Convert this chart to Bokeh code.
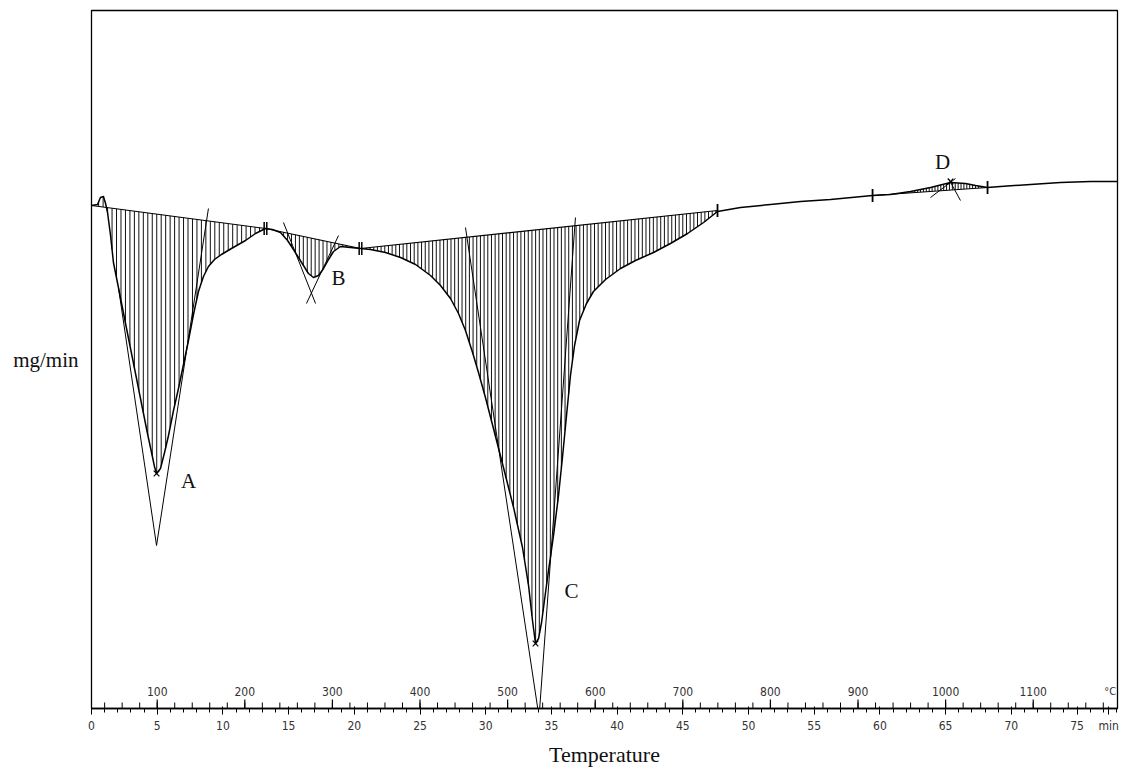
import numpy as np
from bokeh.plotting import figure
from bokeh.models import Range1d, FixedTicker, Label
from bokeh.core.properties import value
from bokeh.embed import file_html
from bokeh.resources import INLINE

# ---------------- data ----------------
# DTG curve: time (min) vs mass-loss rate (mg/min, arbitrary scale)
time_min = [0.00, 0.46, 0.68, 0.91, 1.07, 1.22, 1.45, 1.67, 2.05, 2.59, 3.35, 3.88, 4.26, 4.57, 4.79, 4.95,
            5.25, 5.56, 5.86, 6.24, 6.62, 7.00, 7.38, 7.76, 8.14, 8.52, 8.90, 9.36, 9.89, 10.65, 11.72,
            12.48, 13.24,
            13.77, 14.38, 14.92, 15.37, 15.75, 16.13, 16.51, 16.89, 17.28, 17.66, 18.04, 18.42, 18.95,
            19.71, 20.47,
            21.23, 22.37, 23.52, 24.66, 25.80, 26.56, 27.32, 27.93, 28.46, 29.00, 29.45, 29.98, 30.59,
            31.35, 32.12, 32.80, 33.26, 33.56, 33.79, 34.02, 34.25, 34.47, 34.78, 35.16, 35.54, 35.84,
            36.15, 36.45, 36.76, 37.14, 37.67, 38.20, 39.12, 40.26, 41.40, 42.77, 44.06, 45.36, 46.58,
            47.64,
            49.39, 51.67, 53.96, 56.24, 59.44, 60.81, 62.33, 63.85, 65.37, 66.51, 67.28, 68.19,
            69.18, 71.46, 73.74, 76.03, 78.08]
rate = [0.00, 0.01, 0.08, 0.09, 0.02, -0.07, -0.30, -0.57, -0.82, -1.18, -1.68, -2.03, -2.28, -2.47, -2.61, -2.68,
        -2.63, -2.47, -2.30, -2.05, -1.83, -1.59, -1.35, -1.09, -0.86, -0.71, -0.61, -0.54, -0.49, -0.43, -0.35,
        -0.28, -0.23,
        -0.24, -0.27, -0.35, -0.44, -0.52, -0.60, -0.68, -0.72, -0.70, -0.63, -0.54, -0.46, -0.41,
        -0.42, -0.43,
        -0.44, -0.47, -0.52, -0.59, -0.70, -0.80, -0.93, -1.08, -1.25, -1.47, -1.67, -1.92, -2.23,
        -2.62, -3.02, -3.42, -3.80, -4.15, -4.38, -4.33, -4.17, -3.95, -3.65, -3.30, -2.90, -2.52,
        -2.10, -1.70, -1.40, -1.15, -0.98, -0.86, -0.74, -0.63, -0.55, -0.47, -0.38, -0.28, -0.17,
        -0.06,
        -0.02, 0.01, 0.04, 0.06, 0.10, 0.11, 0.14, 0.18, 0.23, 0.22, 0.20, 0.18,
        0.19, 0.21, 0.23, 0.24, 0.24]

# peaks: integration limits (min) and baseline end values
peak_names = ["A", "B", "C", "D"]
base_t0 = [0.00, 13.24, 20.47, 59.44]
base_v0 = [0.00, -0.23, -0.43, 0.10]
base_t1 = [13.24, 20.47, 47.64, 68.19]
base_v1 = [-0.23, -0.43, -0.05, 0.18]
hatch_step = [0.34, 0.30, 0.28, 0.22]

# peak extremes (x marks) and label positions
mark_t = [4.95, 33.79, 65.37]
mark_v = [-2.68, -4.38, 0.24]
label_t = [7.38, 18.80, 36.53, 64.76]
label_v = [-2.75, -0.72, -3.85, 0.44]

# tangent construction lines
tan_t0 = [2.05, 8.90, 14.61, 18.80, 28.46, 36.83, 63.85, 65.22]
tan_v0 = [-0.82, -0.03, -0.17, -0.30, -0.22, -0.12, 0.08, 0.27]
tan_t1 = [4.95, 4.95, 17.05, 16.36, 34.12, 34.03, 65.75, 66.13]
tan_v1 = [-3.40, -3.40, -0.98, -0.98, -5.17, -5.17, 0.27, 0.05]

# limit markers (single and double)
single_lim_t = [47.64, 59.44, 68.19]
single_lim_v = [-0.05, 0.10, 0.18]
double_lim_t = [13.24, 20.47]
double_lim_v = [-0.23, -0.43]

# axis scales
minute_ticks = list(range(0, 76, 5))
temp_major = [100, 200, 300, 400, 500, 600, 700, 800, 900, 1000, 1100]
temp_minor = list(range(40, 1181, 20))
T0, HEAT_RATE = 25.0, 15.0   # deg C, deg C / min

X_END = 78.08
Y_MIN, Y_MAX = -5.03, 1.95

# ---------------- figure ----------------
p = figure(width=1134, height=772, x_range=Range1d(0, X_END), y_range=Range1d(Y_MIN, Y_MAX),
           output_backend="svg", toolbar_location=None,
           min_border_left=91, min_border_right=17, min_border_top=10, min_border_bottom=64)
p.extra_x_ranges = {"temp": Range1d(T0, T0 + HEAT_RATE * X_END)}
p.xgrid.visible = False
p.ygrid.visible = False
p.outline_line_color = "black"
p.outline_line_width = 1.3
p.background_fill_color = "white"
p.border_fill_color = "white"

narrow = "Liberation Sans Narrow, DejaVu Sans Condensed, Liberation Sans, sans-serif"
serif = "Liberation Serif"

# minutes axis
xa = p.xaxis[0]
xa.ticker = FixedTicker(ticks=minute_ticks + [77.4], minor_ticks=list(range(0, 79)))
xa.major_label_overrides = {77.4: "min"}
xa.axis_line_color = "black"
xa.axis_line_width = 1.3
xa.major_tick_line_color = "black"
xa.minor_tick_line_color = "black"
xa.major_tick_out = 6
xa.major_tick_in = 2
xa.minor_tick_out = 4
xa.minor_tick_in = 0
xa.major_label_standoff = 4
xa.major_label_text_font = narrow
xa.major_label_text_font_size = "12px"
xa.major_label_text_color = "#333333"
xa.axis_label = "Temperature"
xa.axis_label_text_font = serif
xa.axis_label_text_font_size = "22px"
xa.axis_label_text_font_style = "normal"
xa.axis_label_text_color = "#111111"
xa.axis_label_standoff = 6

# hidden left axis carrying the unit label
ya = p.yaxis[0]
ya.ticker = FixedTicker(ticks=[])
ya.axis_line_color = None
ya.major_tick_line_color = None
ya.minor_tick_line_color = None
ya.axis_label_text_font = serif
ya.axis_label_text_font_size = "21px"
ya.axis_label_text_font_style = "normal"
ya.axis_label_text_color = "#111111"
ya.axis_label_standoff = 13
try:
    ya.axis_label_orientation = "horizontal"
    ya.axis_label = "mg/min"
except Exception:
    p.add_layout(Label(x=12, y=405, x_units="screen", y_units="screen", text="mg/min",
                       text_font=serif, text_font_size="21px"))

# temperature scale drawn on the axis line
p.segment(x0=temp_minor, y0=[Y_MIN] * len(temp_minor), x1=temp_minor,
          y1=[Y_MIN + 0.06] * len(temp_minor), x_range_name="temp", line_color="black", line_width=1)
p.segment(x0=temp_major, y0=[Y_MIN] * len(temp_major), x1=temp_major,
          y1=[Y_MIN + 0.09] * len(temp_major), x_range_name="temp", line_color="black", line_width=1.2)
p.text(x=temp_major, y=[Y_MIN + 0.17] * len(temp_major), text=[str(t) for t in temp_major],
       x_range_name="temp", text_align="center", text_baseline="middle",
       text_font=value(narrow), text_font_size="12px", text_color="#333333")
p.text(x=[X_END - 0.1], y=[Y_MIN + 0.17], text=["°C"], text_align="right", text_baseline="middle",
       text_font=value(narrow), text_font_size="11px", text_color="#333333")

# hatching between baseline and curve for each peak
tc = np.array(time_min)
vc = np.array(rate)
hx, hy0, hy1 = [], [], []
for t0, v0, t1, v1, st in zip(base_t0, base_v0, base_t1, base_v1, hatch_step):
    xs = np.arange(t0 + st * 0.6, t1 - st * 0.3, st)
    yb = v0 + (xs - t0) / (t1 - t0) * (v1 - v0)
    yc = np.interp(xs, tc, vc)
    hx += list(xs)
    hy0 += list(yb)
    hy1 += list(yc)
p.segment(x0=hx, y0=hy0, x1=hx, y1=hy1, line_color="#111111", line_width=1.0)

# baselines
p.segment(x0=base_t0, y0=base_v0, x1=base_t1, y1=base_v1, line_color="black", line_width=1.2)
# tangents
p.segment(x0=tan_t0, y0=tan_v0, x1=tan_t1, y1=tan_v1, line_color="black", line_width=1)
# DTG curve
p.line(time_min, rate, line_color="black", line_width=1.5, line_join="round")

# markers
p.scatter(mark_t, mark_v, marker="x", size=8, line_color="black", line_width=1.2)
p.scatter(single_lim_t, single_lim_v, marker="dash", angle=np.pi / 2, size=13,
          line_color="black", line_width=1.8)
for off in (-0.1, 0.1):
    p.scatter([t + off for t in double_lim_t], double_lim_v, marker="dash", angle=np.pi / 2,
              size=13, line_color="black", line_width=1.5)

# peak letters
p.text(x=label_t, y=label_v, text=peak_names, text_align="center", text_baseline="middle",
       text_font=value(serif), text_font_size="21px", text_color="#111111")

open("out.html", "w").write(file_html(p, INLINE))
